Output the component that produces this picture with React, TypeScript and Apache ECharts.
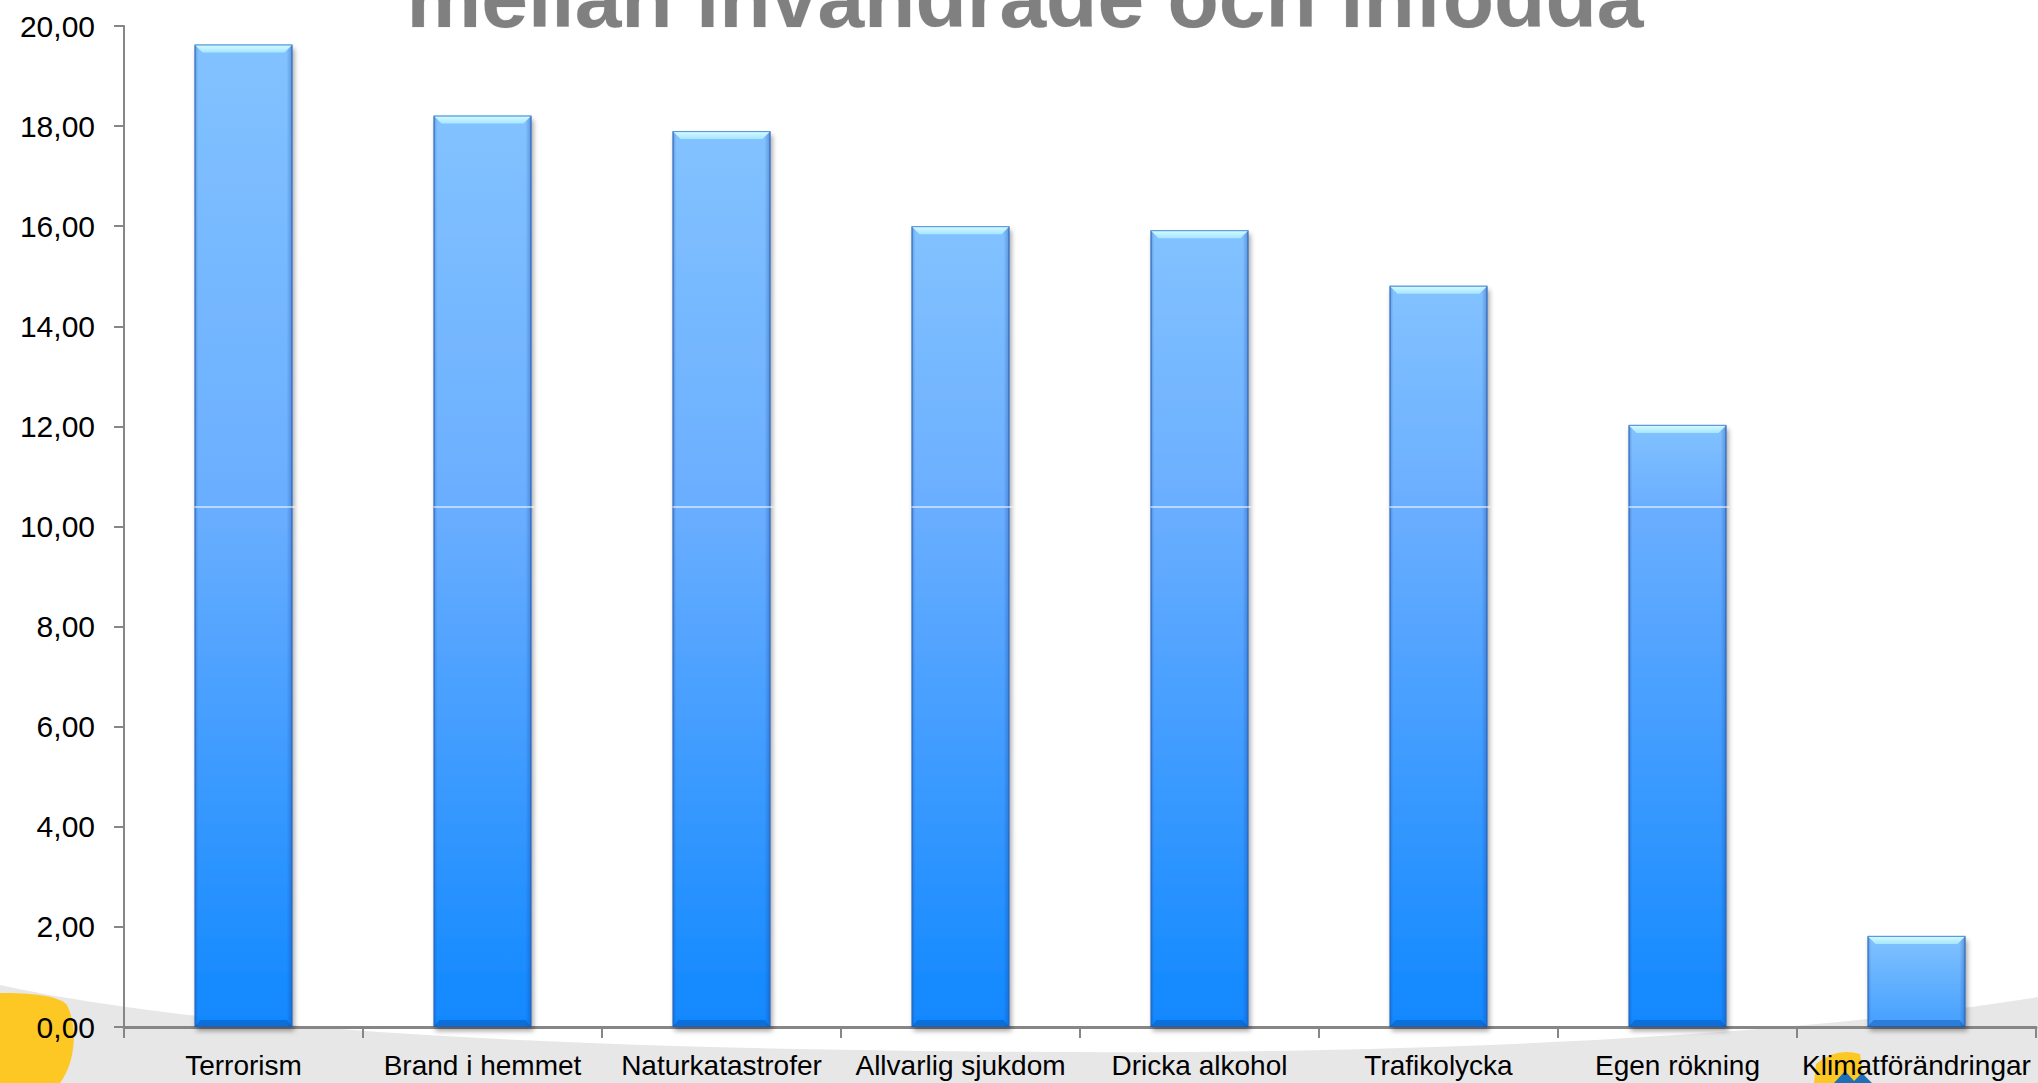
import React, { useEffect, useRef } from "react";
import * as echarts from "echarts";

const categories = [
  "Terrorism",
  "Brand i hemmet",
  "Naturkatastrofer",
  "Allvarlig sjukdom",
  "Dricka alkohol",
  "Trafikolycka",
  "Egen rökning",
  "Klimatförändringar",
];
const values = [19.63, 18.21, 17.9, 16.0, 15.92, 14.81, 12.03, 1.82];
const yTicks = [0, 2, 4, 6, 8, 10, 12, 14, 16, 18, 20];
const titleText = "mellan invandrade och infödda";

const GRADIENT_BREAK = 10.39;
const BAR_RATIO = 0.41;
const FONT = '"Liberation Sans", Arial, Helvetica, sans-serif';

echarts.graphic.registerShape(
  "graySwoosh",
  echarts.graphic.extendPath(
    "M0,985 C250,1040 700,1050 1050,1052 C1450,1054 1800,1035 2038,997 L2038,1083 L0,1083 Z",
    {}
  )
);
echarts.graphic.registerShape(
  "yellowBlob",
  echarts.graphic.extendPath(
    "M0,993 C30,993 58,995 67,1005 C77,1025 77,1060 60,1083 L0,1083 Z",
    {}
  )
);
echarts.graphic.registerShape(
  "logoYellow",
  echarts.graphic.extendPath("M1816,1064 Q1836,1047 1860,1054 L1864,1083 L1814,1083 Z", {})
);
echarts.graphic.registerShape(
  "logoBlue",
  echarts.graphic.extendPath("M1834,1083 L1845,1071 L1856,1083 Z M1852,1083 L1862,1073 L1872,1083 Z", {})
);

function barColor(v: number) {
  const f = v > GRADIENT_BREAK ? (v - GRADIENT_BREAK) / v : 0;
  const stops =
    f > 0
      ? [
          { offset: 0, color: "#82c2ff" },
          { offset: f, color: "#6aaeff" },
          { offset: 1, color: "#1088ff" },
        ]
      : [
          { offset: 0, color: "#82c2ff" },
          { offset: 1, color: "#449fff" },
        ];
  return new echarts.graphic.LinearGradient(0, 0, 0, 1, stops);
}

export default function App() {
  const ref = useRef<HTMLDivElement>(null);

  useEffect(() => {
    if (!ref.current) return;
    const chart = echarts.init(ref.current, undefined, { renderer: "svg" });

    const option: any = {
      animation: false,
      backgroundColor: "#ffffff",
      grid: { left: 124, right: 2, top: 26, bottom: 56, containLabel: false },
      graphic: [
        { type: "graySwoosh", z: -10, style: { fill: "#e7e7e7" } },
        { type: "yellowBlob", z: -9, style: { fill: "#fdc823" } },
        { type: "logoYellow", z: -9, style: { fill: "#fdc823" } },
        { type: "logoBlue", z: -9, style: { fill: "#1f6fb8" } },
        {
          type: "text",
          x: 1025,
          y: -2,
          z: 10,
          style: {
            text: titleText,
            font: `bold 84px ${FONT}`,
            fill: "#808080",
            stroke: "#eeeeee",
            lineWidth: 1,
            align: "center",
            verticalAlign: "middle",
          },
        },
      ],
      xAxis: {
        type: "category",
        data: categories,
        axisLine: { lineStyle: { color: "#868686", width: 3 } },
        axisTick: { show: true, length: 11, lineStyle: { color: "#868686", width: 2 } },
        axisLabel: {
          color: "#000000",
          fontFamily: FONT,
          fontSize: 28,
          margin: 24,
          interval: 0,
        },
        splitLine: { show: false },
      },
      yAxis: {
        type: "value",
        min: 0,
        max: 20,
        interval: 2,
        axisLine: { show: true, lineStyle: { color: "#868686", width: 2 } },
        axisTick: { show: true, length: 10, lineStyle: { color: "#868686", width: 2 } },
        axisLabel: {
          color: "#000000",
          fontFamily: FONT,
          fontSize: 30,
          margin: 29,
          formatter: (v: number) =>
            yTicks.includes(v) ? v.toFixed(2).replace(".", ",") : "",
        },
        splitLine: { show: false },
      },
      series: [
        {
          type: "bar",
          barWidth: `${BAR_RATIO * 100}%`,
          z: 2,
          data: values.map((v) => ({
            value: v,
            itemStyle: {
              color: barColor(v),
              borderColor: "#2f6fc4",
              borderWidth: 1,
              shadowColor: "rgba(0,0,0,0.35)",
              shadowBlur: 5,
              shadowOffsetX: 2,
              shadowOffsetY: 4,
            },
          })),
        },
        {
          type: "custom",
          z: 3,
          data: values.map((v, i) => [i, v]),
          encode: { x: 0, y: 1 },
          renderItem: (params: any, api: any) => {
            const idx = api.value(0);
            const v = api.value(1);
            const top = api.coord([idx, v]);
            const base = api.coord([idx, 0]);
            const w = api.size([1, 0])[0] * BAR_RATIO;
            const x0 = top[0] - w / 2;
            const x1 = top[0] + w / 2;
            const yT = top[1];
            const yB = base[1];
            const h = yB - yT;
            const children: any[] = [
              {
                type: "rect",
                shape: { x: x1 - 6, y: yT, width: 6, height: h },
                style: {
                  fill: new echarts.graphic.LinearGradient(0, 0, 1, 0, [
                    { offset: 0, color: "rgba(20,60,150,0)" },
                    { offset: 1, color: "rgba(20,60,150,0.35)" },
                  ]),
                },
              },
              {
                type: "rect",
                shape: { x: x0, y: yT, width: 4, height: h },
                style: {
                  fill: new echarts.graphic.LinearGradient(0, 0, 1, 0, [
                    { offset: 0, color: "rgba(20,60,150,0.3)" },
                    { offset: 1, color: "rgba(20,60,150,0)" },
                  ]),
                },
              },
              {
                type: "polygon",
                shape: {
                  points: [
                    [x0, yT],
                    [x1, yT],
                    [x1 - 8, yT + 8],
                    [x0 + 8, yT + 8],
                  ],
                },
                style: {
                  fill: new echarts.graphic.LinearGradient(0, 0, 0, 1, [
                    { offset: 0, color: "#d8fcff" },
                    { offset: 1, color: "#a6e6ff" },
                  ]),
                },
              },
              {
                type: "line",
                shape: { x1: x0, y1: yT + 0.5, x2: x1, y2: yT + 0.5 },
                style: { stroke: "#4f8fd8", lineWidth: 1 },
              },
              {
                type: "polygon",
                shape: {
                  points: [
                    [x0 + 6, yB - 7],
                    [x1 - 6, yB - 7],
                    [x1, yB],
                    [x0, yB],
                  ],
                },
                style: { fill: "rgba(10,80,170,0.45)" },
              },
            ];
            if (v > GRADIENT_BREAK) {
              const yl = api.coord([idx, GRADIENT_BREAK])[1];
              children.push({
                type: "line",
                shape: { x1: x0, y1: yl, x2: x1 + 3, y2: yl },
                style: { stroke: "rgba(255,255,255,0.7)", lineWidth: 1.5 },
              });
            }
            return { type: "group", children };
          },
        },
      ],
    };

    chart.setOption(option);
    return () => chart.dispose();
  }, []);

  return (
    <div
      ref={ref}
      style={{ position: "absolute", left: 0, top: 0, width: 2038, height: 1083 }}
    />
  );
}
